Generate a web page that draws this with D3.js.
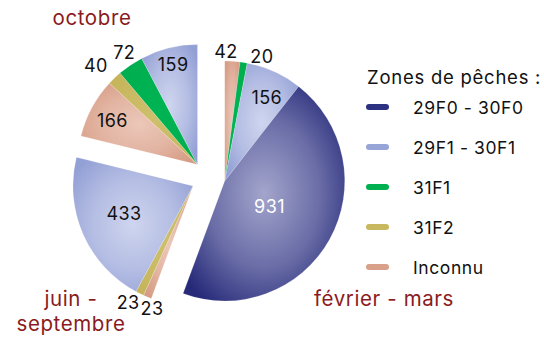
<!DOCTYPE html>
<html>
<head>
<meta charset="utf-8">
<script src="https://cdn.jsdelivr.net/npm/d3@7"></script>
<style>
  html, body { margin: 0; padding: 0; background: #fff; }
  svg { display: block; font-family: "Inter", "Open Sans", sans-serif; }
</style>
</head>
<body>
<svg id="chart" width="544" height="339"></svg>
<script>
// Catch counts per period, split by fishing zone
const groups = ["février - mars", "juin - septembre", "octobre"];
const zones = ["29F0 - 30F0", "29F1 - 30F1", "31F1", "31F2", "Inconnu"];
const fevrierMars   = [931, 156, 20, 0, 42];
const juinSeptembre = [0, 433, 0, 23, 23];
const octobre       = [0, 159, 72, 40, 166];
const groupValues = [fevrierMars, juinSeptembre, octobre];

// Fill colours: [edge, centre] of each slice's radial shading
const zoneColors = {
  "29F0 - 30F0": ["#262a79", "#a3a5cc"],
  "29F1 - 30F1": ["#93a0d5", "#cfd5ef"],
  "31F1": ["#00ad4f", "#00b453"],
  "31F2": ["#c6b45a", "#cdbf6c"],
  "Inconnu": ["#d69c85", "#ecc7b9"]
};
const legendColors = ["#2c3182", "#97a4d7", "#00b050", "#c8b860", "#d9a08a"];

// Label placement: radius factor and angular nudge (degrees)
const labelPlacement = {
  "février - mars|29F0 - 30F0": [0.43, 0.7],
  "février - mars|29F1 - 30F1": [0.78, 2.3],
  "février - mars|31F1": [1.08, 7.6],
  "février - mars|Inconnu": [1.08, -3.1],
  "juin - septembre|29F1 - 30F1": [0.62, 1.9],
  "juin - septembre|31F2": [1.11, 2.8],
  "juin - septembre|Inconnu": [1.08, -3.9],
  "octobre|29F1 - 30F1": [0.86, 0.2],
  "octobre|31F1": [1.12, 0.9],
  "octobre|31F2": [1.18, -2.1],
  "octobre|Inconnu": [0.8, -0.8]
};

const svg = d3.select("#chart");
const cx = 208, cy = 178, radius = 120, explode = 17;

// Slices: within each period, zones run in reverse order clockwise from 12 o'clock
const items = [];
groups.forEach((g, gi) => {
  for (let zi = zones.length - 1; zi >= 0; zi--) {
    const v = groupValues[gi][zi];
    if (v > 0) items.push({ group: g, zone: zones[zi], value: v });
  }
});

const pie = d3.pie().sort(null).value(d => d.value);
const slices = pie(items);
const groupArcs = d3.pie().sort(null)(groupValues.map(a => d3.sum(a)));
const groupMid = {};
groups.forEach((g, i) => {
  groupMid[g] = (groupArcs[i].startAngle + groupArcs[i].endAngle) / 2;
});

const arc = d3.arc().innerRadius(0).outerRadius(radius);
const defs = svg.append("defs");

const pieG = svg.append("g").attr("transform", `translate(${cx},${cy})`);

slices.forEach((s, i) => {
  const id = "grad" + i;
  const [edge, centre] = zoneColors[s.data.zone];
  const grad = defs.append("radialGradient").attr("id", id)
    .attr("cx", "50%").attr("cy", "50%").attr("r", "62%");
  grad.append("stop").attr("offset", "0%").attr("stop-color", centre);
  grad.append("stop").attr("offset", "55%").attr("stop-color", d3.interpolateRgb(centre, edge)(0.45));
  grad.append("stop").attr("offset", "100%").attr("stop-color", edge);

  const m = groupMid[s.data.group];
  const ox = explode * Math.sin(m), oy = -explode * Math.cos(m);
  const g = pieG.append("g").attr("transform", `translate(${ox},${oy})`);
  g.append("path")
    .attr("d", arc(s))
    .attr("fill", `url(#${id})`)
    .attr("stroke", "#ffffff")
    .attr("stroke-opacity", 0.35)
    .attr("stroke-width", 0.5);

  const key = s.data.group + "|" + s.data.zone;
  const [k, nudge] = labelPlacement[key] || [0.65, 0];
  const a = (s.startAngle + s.endAngle) / 2 + nudge * Math.PI / 180;
  g.append("text")
    .attr("x", k * radius * Math.sin(a))
    .attr("y", -k * radius * Math.cos(a))
    .attr("dy", "0.36em")
    .attr("text-anchor", "middle")
    .attr("font-size", 18)
    .attr("letter-spacing", 0.4)
    .attr("fill", s.data.zone === "29F0 - 30F0" ? "#ffffff" : "#111111")
    .text(s.data.value);
});

// Period names
const periodColor = "#8a1b1e";
const periodLabels = [
  { lines: ["octobre"], x: 92, y: 25 },
  { lines: ["juin -", "septembre"], x: 71, y: 306 },
  { lines: ["février - mars"], x: 384, y: 306 }
];
periodLabels.forEach(p => {
  const t = svg.append("text")
    .attr("x", p.x).attr("y", p.y)
    .attr("text-anchor", "middle")
    .attr("font-size", 20.5)
    .attr("letter-spacing", 0.6)
    .attr("fill", periodColor);
  p.lines.forEach((l, i) => {
    t.append("tspan").attr("x", p.x).attr("dy", i === 0 ? 0 : 25).text(l);
  });
});

// Legend
const legend = svg.append("g").attr("transform", "translate(367,0)");
legend.append("text")
  .attr("x", 0).attr("y", 84)
  .attr("font-size", 18.5)
  .attr("letter-spacing", 0.75)
  .attr("fill", "#111")
  .text("Zones de pêches :");
zones.forEach((z, i) => {
  const y = 107 + i * 40;
  legend.append("line")
    .attr("x1", 2).attr("x2", 19)
    .attr("y1", y).attr("y2", y)
    .attr("stroke", legendColors[i])
    .attr("stroke-width", 6)
    .attr("stroke-linecap", "round");
  legend.append("text")
    .attr("x", 46).attr("y", y + 6.5)
    .attr("font-size", 17.5)
    .attr("letter-spacing", 0.6)
    .attr("fill", "#111")
    .text(z);
});
</script>
</body>
</html>
